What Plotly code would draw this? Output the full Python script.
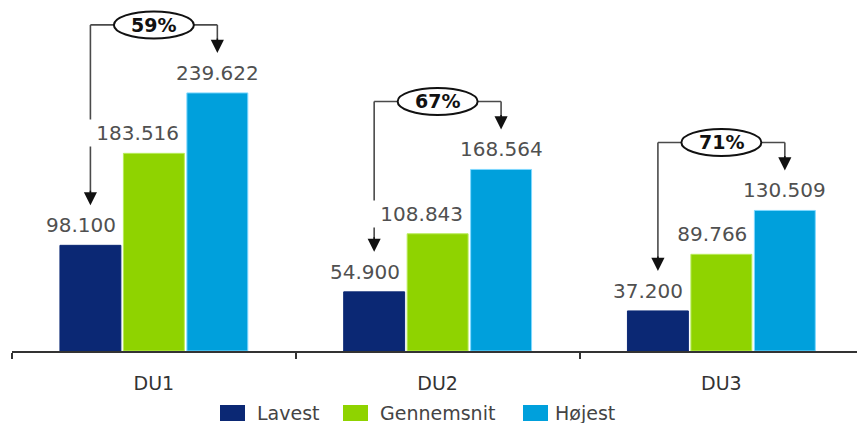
import plotly.graph_objects as go

# ---- data ----
categories = ["DU1", "DU2", "DU3"]
lavest = [98100, 54900, 37200]
gennemsnit = [183516, 108843, 89766]
hoejest = [239622, 168564, 130509]
lavest_txt = ["98.100", "54.900", "37.200"]
gennemsnit_txt = ["183.516", "108.843", "89.766"]
hoejest_txt = ["239.622", "168.564", "130.509"]
pct_labels = ["59%", "67%", "71%"]
series_names = ["Lavest", "Gennemsnit", "Højest"]

# ---- style / layout ----
W, H = 857, 423
ML, MR, MT, MB = 12, 0, 0, 72
PLOT_W = W - ML - MR
PLOT_H = H - MT - MB
YMAX = 325900
CAT_W = 283.75
BARGAP = 0.329
GROUPGAP = 0.04
colors = ["#0b2874", "#8fd300", "#00a0dc"]
edge = ["#0b2874", "#b8ec5a", "#7fd8ff"]
FONT = "DejaVu Sans"

ppu = PLOT_H / YMAX            # pixels per data unit
slot = (1 - BARGAP) / 3        # category units per bar slot
half_bar = slot * (1 - GROUPGAP) / 2

fig = go.Figure()
for name, vals, c, e in zip(series_names, [lavest, gennemsnit, hoejest], colors, edge):
    fig.add_trace(go.Bar(
        x=categories, y=vals, name=name,
        marker=dict(color=c, line=dict(color=e, width=1)),
        hoverinfo="x+y", showlegend=False,
    ))

shapes = []
annotations = []
LINE_C = "#4a4a4a"
for i in range(len(categories)):
    xl = i - slot
    xm = i
    xh = i + slot
    # value labels
    annotations.append(dict(x=xl + half_bar, y=lavest[i], xref="x", yref="y",
                            text=lavest_txt[i], showarrow=False,
                            xanchor="right", yanchor="bottom", xshift=-3, yshift=6,
                            font=dict(family=FONT, size=20, color="#505050")))
    annotations.append(dict(x=xm + half_bar, y=gennemsnit[i], xref="x", yref="y",
                            text="\u00a0" + gennemsnit_txt[i], showarrow=False,
                            bgcolor="white", borderpad=1,
                            xanchor="right", yanchor="bottom", xshift=-3, yshift=6,
                            font=dict(family=FONT, size=20, color="#505050")))
    annotations.append(dict(x=xh, y=hoejest[i], xref="x", yref="y",
                            text=hoejest_txt[i], showarrow=False,
                            xanchor="center", yanchor="bottom", yshift=6,
                            font=dict(family=FONT, size=20, color="#505050")))
    # bracket
    yb = hoejest[i] + 68 / ppu
    tip_l = lavest[i] + 40 / ppu
    tip_h = hoejest[i] + 40 / ppu
    seg = 13 / ppu
    for (x0, y0, x1, y1) in [(xl, tip_l + seg, xl, yb), (xl, yb, xh, yb), (xh, yb, xh, tip_h + seg)]:
        shapes.append(dict(type="line", xref="x", yref="y", x0=x0, y0=y0, x1=x1, y1=y1,
                           line=dict(color=LINE_C, width=1.6)))
    shapes.append(dict(type="circle", xref="x", yref="y",
                       xsizemode="pixel", ysizemode="pixel",
                       xanchor=xm, yanchor=yb, x0=-40, x1=40, y0=-13.5, y1=13.5,
                       fillcolor="white", line=dict(color="#111111", width=2)))
    annotations.append(dict(x=xm, y=yb, xref="x", yref="y", text="<b>%s</b>" % pct_labels[i],
                            showarrow=False, xanchor="center", yanchor="middle",
                            font=dict(family=FONT, size=19, color="#111111")))
    for xa, ya in [(xl, tip_l), (xh, tip_h)]:
        annotations.append(dict(x=xa, y=ya, xref="x", yref="y", text="",
                                showarrow=True, arrowhead=2, arrowsize=1.75, arrowwidth=1.5,
                                arrowcolor="#111111", ax=0, ay=-16, standoff=0))

# manual legend
def px_x(p):
    return (p - ML) / PLOT_W

def px_y(p):
    return (MT + PLOT_H - p) / PLOT_H

LEG_Y = 413
leg_sw = [232.5, 355.5, 535.5]
leg_tx = [255, 378, 553]
for name, c, sx, tx in zip(series_names, colors, leg_sw, leg_tx):
    shapes.append(dict(type="rect", xref="paper", yref="paper",
                       xsizemode="pixel", ysizemode="pixel",
                       xanchor=px_x(sx), yanchor=px_y(LEG_Y), x0=-12.5, x1=12.5, y0=-8, y1=8,
                       fillcolor=c, line=dict(width=0)))
    annotations.append(dict(x=px_x(tx), y=px_y(LEG_Y), xref="paper", yref="paper",
                            text=name, showarrow=False, xanchor="left", yanchor="middle",
                            font=dict(family=FONT, size=19, color="#444444")))

fig.update_layout(
    width=W, height=H,
    margin=dict(l=ML, r=MR, t=MT, b=MB, pad=0),
    paper_bgcolor="white", plot_bgcolor="white",
    barmode="group", bargap=BARGAP, bargroupgap=GROUPGAP,
    shapes=shapes, annotations=annotations,
    font=dict(family=FONT),
    xaxis=dict(type="category", range=[-0.5, -0.5 + PLOT_W / CAT_W],
               showline=True, linecolor="#333333", linewidth=1.5,
               ticks="outside", tickson="boundaries", ticklen=6, tickwidth=1.5,
               tickcolor="#333333", showgrid=False, zeroline=False,
               tickfont=dict(family=FONT, size=19, color="#333333"),
               ticklabelstandoff=14),
    yaxis=dict(range=[0, YMAX], visible=False, showgrid=False, zeroline=False),
)

fig.write_html("out.html", config={"displayModeBar": False},
               post_script="document.body.style.margin='0px';document.body.style.overflow='hidden';")
